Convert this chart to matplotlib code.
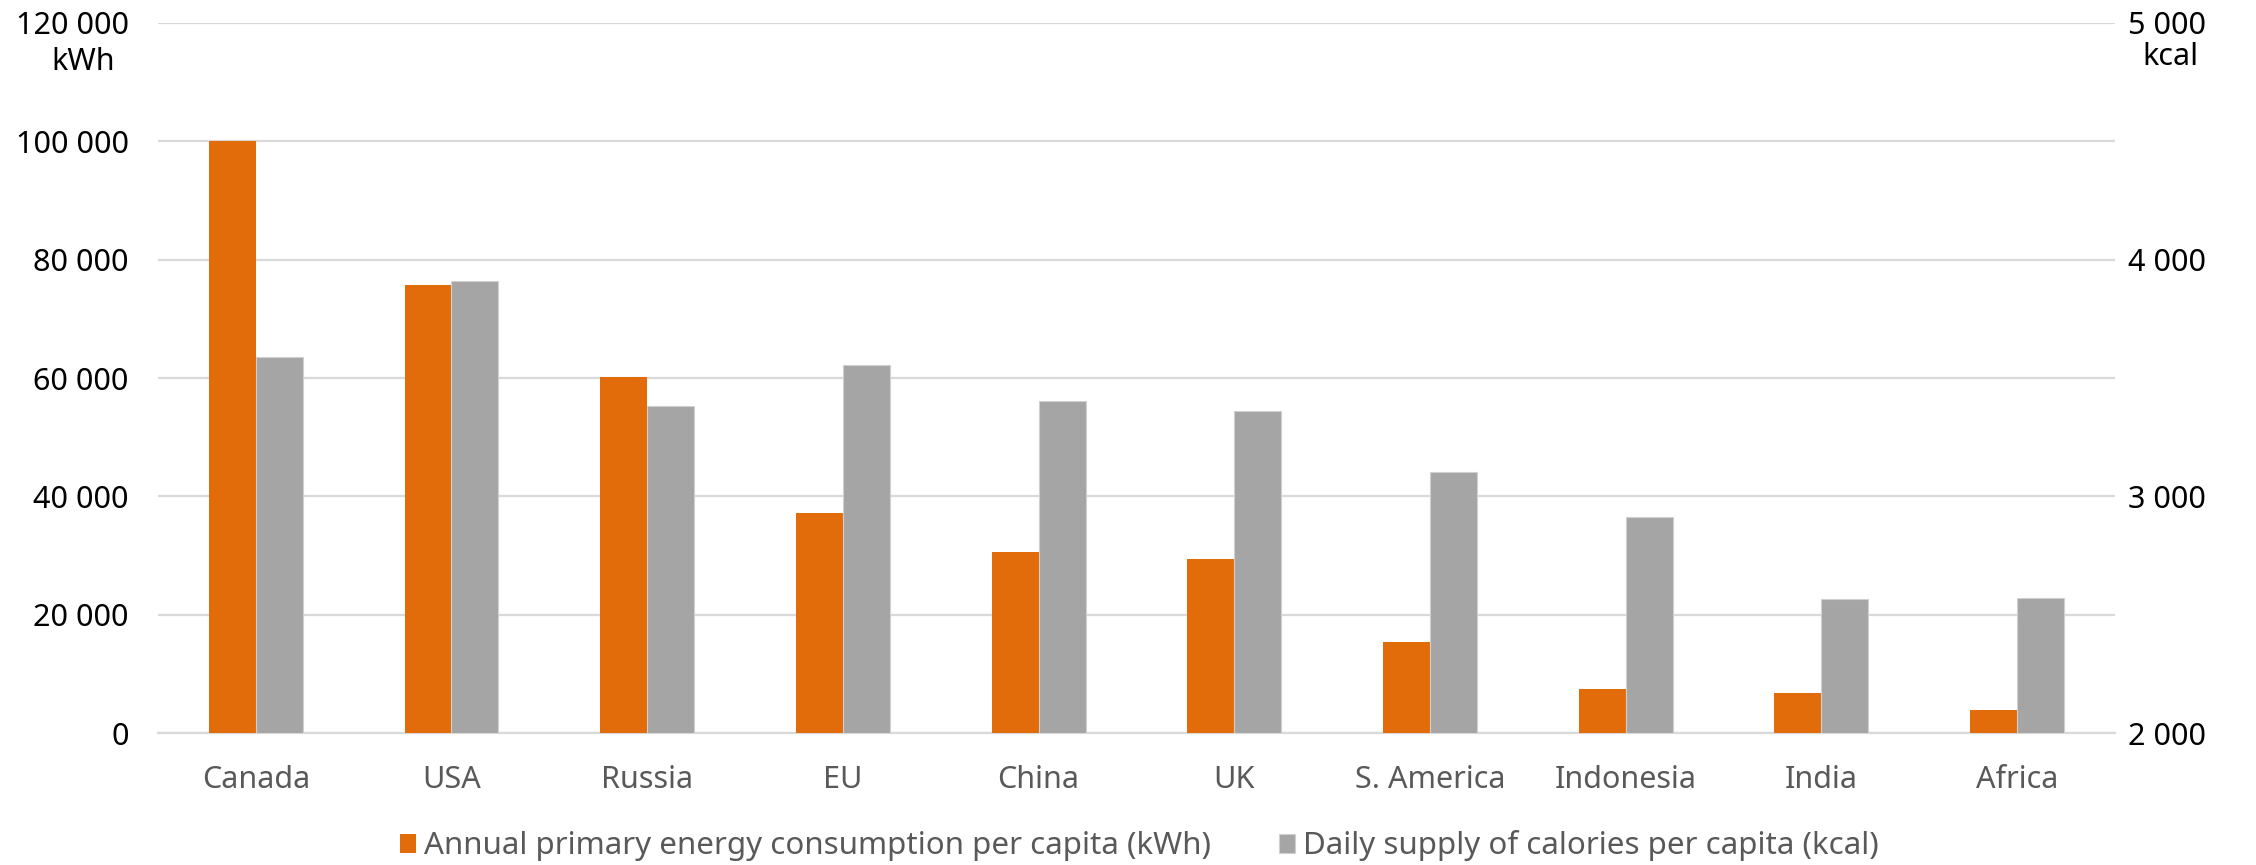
import matplotlib
matplotlib.use('Agg')
import matplotlib.pyplot as plt
import numpy as np
from matplotlib.ticker import FuncFormatter

regions = ['Canada', 'USA', 'Russia', 'EU', 'China', 'UK', 'S. America', 'Indonesia', 'India', 'Africa']
energy_kwh = [100000, 75700, 60100, 37200, 30700, 29500, 15500, 7500, 6800, 4000]
calories_kcal = [3588, 3908, 3380, 3553, 3403, 3360, 3105, 2913, 2567, 2571]

energy_label = 'Annual primary energy consumption per capita (kWh)'
calories_label = 'Daily supply of calories per capita (kcal)'

ORANGE = '#E36C0A'
GREY = '#A5A5A5'
GRID = '#D9D9D9'
TEXT_GREY = '#595959'

plt.rcParams['font.family'] = ['Noto Sans', 'DejaVu Sans']


def spaced(v, _pos=None):
    return f'{int(round(v)):,}'.replace(',', ' ')


fig = plt.figure(figsize=(22.56, 8.65), dpi=100)
ax = fig.add_axes([0.070, 0.1522, 0.8675, 0.8216])
ax2 = ax.twinx()

x = np.arange(len(regions))
w = 0.24
h1 = ax.bar(x - w / 2, energy_kwh, w, color=ORANGE, label=energy_label, zorder=3)
h2 = ax2.bar(x + w / 2, np.array(calories_kcal) - 2000, w, bottom=2000, color=GREY,
             edgecolor='#D0D0D0', linewidth=0.8, label=calories_label, zorder=3)

ax.set_xlim(-0.5, len(regions) - 0.5)
ax.set_ylim(0, 120000)
ax.set_yticks(np.arange(0, 120001, 20000))
ax.yaxis.set_major_formatter(FuncFormatter(spaced))
ax2.set_ylim(2000, 5000)
ax2.set_yticks([2000, 3000, 4000, 5000])
ax2.yaxis.set_major_formatter(FuncFormatter(spaced))

ax.grid(axis='y', color=GRID, linewidth=1.6, zorder=0)
ax.set_axisbelow(True)
for a in (ax, ax2):
    for s in a.spines.values():
        s.set_visible(False)
ax.spines['bottom'].set_visible(True)
ax.spines['bottom'].set_color(GRID)
ax.spines['bottom'].set_linewidth(1.6)

ax.set_xticks(x)
ax.set_xticklabels(regions)
ax.tick_params(axis='x', length=0, pad=23, labelsize=22, labelcolor=TEXT_GREY)
ax.tick_params(axis='y', length=0, pad=21, labelsize=22, labelcolor='black')
ax2.tick_params(axis='y', length=0, pad=9, labelsize=22, labelcolor='black')

# unit captions under the top tick labels
fig.text(115 / 2256, 1 - 62 / 865, 'kWh', ha='right', va='center', fontsize=22)
fig.text(2170 / 2256, 1 - 57 / 865, 'kcal', ha='center', va='center', fontsize=22)

fig.legend([h1, h2], [energy_label, calories_label], loc='center',
           bbox_to_anchor=(0.505, 0.022), ncol=2, frameon=False, fontsize=22.5,
           labelcolor=TEXT_GREY, handlelength=0.5, handleheight=0.55,
           handletextpad=0.25, columnspacing=2.2)

fig.savefig('out.png', dpi=100)
